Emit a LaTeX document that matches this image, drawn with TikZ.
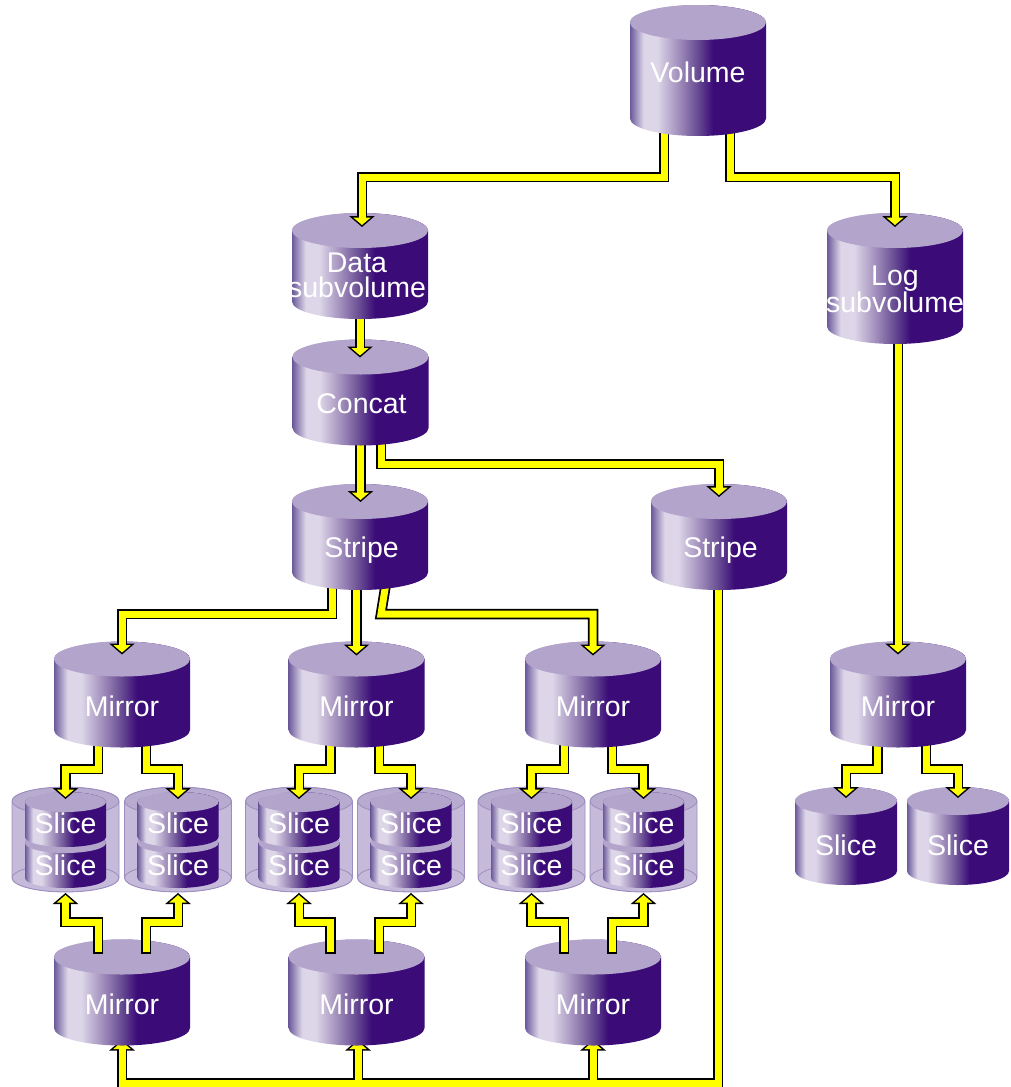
\documentclass[tikz,border=0pt]{standalone}
\usepackage{fontspec}
\setmainfont{Liberation Sans}
\usetikzlibrary{arrows.meta}

\definecolor{cylflat}{HTML}{3B0C78}
\definecolor{cylmid}{HTML}{6A4F94}
\definecolor{cylsoft}{HTML}{9C88B8}
\definecolor{cyllight}{HTML}{DDD6E8}
\definecolor{cyledge}{HTML}{6B5A9B}
\definecolor{cyltop}{HTML}{B3A4CB}
\definecolor{sleevefill}{HTML}{C5BAD9}
\definecolor{sleevetop}{HTML}{B8ABD0}
\definecolor{sleeveline}{HTML}{9D8DBE}
\definecolor{pipeyellow}{HTML}{FFFF00}

\pgfdeclarehorizontalshading{cylbody}{100bp}{%
  color(0bp)=(cyledge); color(25bp)=(cyledge); color(30bp)=(cyllight);
  color(35bp)=(cyllight); color(43.5bp)=(cylsoft); color(49.5bp)=(cylmid);
  color(55.5bp)=(cylflat); color(100bp)=(cylflat)}

% a drum: box with elliptic top and bottom
\pgfkeys{/pgf/drum ry/.initial=17.5}
\makeatletter
\pgfdeclareshape{drum}{
  \inheritsavedanchors[from=rectangle]
  \inheritanchorborder[from=rectangle]
  \inheritanchor[from=rectangle]{center}
  \inheritanchor[from=rectangle]{north}
  \inheritanchor[from=rectangle]{south}
  \inheritanchor[from=rectangle]{east}
  \inheritanchor[from=rectangle]{west}
  \backgroundpath{
    \southwest \edef\drumxa{\the\pgf@x}\edef\drumya{\the\pgf@y}
    \northeast \edef\drumxb{\the\pgf@x}\edef\drumyb{\the\pgf@y}
    \pgfmathsetmacro\drumrx{(\drumxb-\drumxa)/2}
    \pgfmathsetmacro\drumry{\pgfkeysvalueof{/pgf/drum ry}}
    \pgfpathmoveto{\pgfpoint{\drumxa}{\drumyb-\drumry pt}}
    \pgfpatharc{180}{0}{\drumrx pt and \drumry pt}
    \pgfpathlineto{\pgfpoint{\drumxb}{\drumya+\drumry pt}}
    \pgfpatharc{0}{-180}{\drumrx pt and \drumry pt}
    \pgfpathclose
  }
}
\makeatother

% stacking, back to front
\pgfdeclarelayer{bus}
\pgfdeclarelayer{lowmirrors}
\pgfdeclarelayer{slices}
\pgfdeclarelayer{slicepipes}
\pgfdeclarelayer{mirrors}
\pgfdeclarelayer{mirrorpipes}
\pgfdeclarelayer{stripes}
\pgfdeclarelayer{stripepipes}
\pgfdeclarelayer{concats}
\pgfdeclarelayer{concatpipes}
\pgfdeclarelayer{subvolumes}
\pgfdeclarelayer{volumepipes}
\pgfsetlayers{bus,lowmirrors,slices,slicepipes,mirrors,mirrorpipes,stripes,stripepipes,concats,concatpipes,subvolumes,volumepipes,main}

\tikzset{
  cyl/.style n args={3}{shape=drum, drum ry=#2,
    minimum width=2*#1, minimum height=#3, inner sep=0pt, outer sep=0pt,
    shade, shading=cylbody,
    path picture={\fill[cyltop] ([yshift=-#2]path picture bounding box.north) ellipse (#1 and #2);}},
  bigcyl/.style={cyl={68}{17.5}{#1}},
  smallcyl/.style={cyl={51}{14}{98}},
  innercyl/.style={cyl={40.5}{10}{55}},
  sleeve/.style={shape=drum, drum ry=14,
    minimum width=107, minimum height=105, inner sep=0pt, outer sep=0pt,
    fill=sleevefill, draw=sleeveline, line width=0.8pt,
    path picture={
      \draw[sleeveline, line width=0.8pt] ([yshift=14]path picture bounding box.south) ellipse (53.5 and 14);
      \draw[sleeveline, fill=sleevetop, line width=0.8pt] ([yshift=-14]path picture bounding box.north) ellipse (53.5 and 14);}},
  bigtext/.style={text=white, font=\fontsize{28.5}{25}\selectfont, align=center},
  pipe/.style={
    preaction={draw=black, line width=10.5pt, shorten >=0pt, shorten <=0pt,
      -{Triangle[width=25pt,length=11pt]}},
    draw=pipeyellow, line width=7pt, shorten >=2pt, shorten <=1.7pt,
    -{Triangle[width=17pt,length=7.5pt]}},
  pipecover/.style={draw=pipeyellow, line width=7pt}
}

\begin{document}
\begin{tikzpicture}[x=1pt,y=1pt]
  \useasboundingbox (0,0) rectangle (1011,-1087);

  % Top of the tree
  \node[bigcyl=131, label={[bigtext,yshift=-2]center:Volume}] (volume) at (698,-70.5) {};
  \begin{pgfonlayer}{subvolumes}
    \node[bigcyl=106, label={[bigtext,xshift=-3,yshift=-9]center:Data\\subvolume}] (data) at (360,-266) {};
    \node[bigcyl=131, label={[bigtext,yshift=-11]center:Log\\subvolume}] (log) at (895,-278.5) {};
  \end{pgfonlayer}
  \begin{pgfonlayer}{concats}
    \node[bigcyl=106, label={[bigtext,xshift=1,yshift=-11]center:Concat}] (concat) at (360.5,-392.5) {};
  \end{pgfonlayer}
  \begin{pgfonlayer}{stripes}
    \node[bigcyl=106, label={[bigtext,xshift=1.5,yshift=-13]center:Stripe}] (stripeA) at (360,-537) {};
    \node[bigcyl=106, label={[bigtext,xshift=1.5,yshift=-13]center:Stripe}] (stripeB) at (719,-537) {};
  \end{pgfonlayer}

  % Mirrors
  \begin{pgfonlayer}{mirrors}
    \foreach \n/\x in {A/122,B/356.5,C/593,D/898} {
      \node[bigcyl=106, label={[bigtext,yshift=-12]center:Mirror}] (mirror\n) at (\x,-694.5) {};
    }
  \end{pgfonlayer}
  \begin{pgfonlayer}{lowmirrors}
    \foreach \n/\x in {A/122,B/356.5,C/593} {
      \node[bigcyl=106, label={[bigtext,yshift=-12]center:Mirror}] (lowmirror\n) at (\x,-992.5) {};
    }
  \end{pgfonlayer}

  % Slices
  \begin{pgfonlayer}{slices}
    \foreach \n/\x in {A/65.5,B/178,C/299,D/411,E/531.5,F/643.5} {
      \node[sleeve] (sleeve\n) at (\x,-839.5) {};
      \node[innercyl, label={[bigtext,yshift=-4.5]center:Slice}] (slicelow\n) at (\x,-860.5) {};
      \node[innercyl, label={[bigtext,yshift=-3.5]center:Slice}] (sliceup\n) at (\x,-819.5) {};
    }
    \node[smallcyl, label={[bigtext,yshift=-9]center:Slice}] (sliceG) at (846,-836) {};
    \node[smallcyl, label={[bigtext,yshift=-9]center:Slice}] (sliceH) at (958,-836) {};
  \end{pgfonlayer}

  % Pipes from the volume down to the stripes
  \begin{pgfonlayer}{volumepipes}
    \draw[pipe] ([xshift=-34]volume.center) -- ([xshift=-34,yshift=-106.5]volume.center) -| ([xshift=2,yshift=-14]data.north);
    \draw[pipe] ([xshift=32]volume.center) -- ([xshift=32,yshift=-106.5]volume.center) -| ([yshift=-14]log.north);
  \end{pgfonlayer}
  \begin{pgfonlayer}{concatpipes}
    \draw[pipe] (data.center) -- ([xshift=-0.5,yshift=-18]concat.north);
  \end{pgfonlayer}
  \begin{pgfonlayer}{stripepipes}
    \draw[pipe] (concat.center) -- ([xshift=0.5,yshift=-18]stripeA.north);
    \draw[pipe] ([xshift=20.5]concat.center) -- ([xshift=20.5,yshift=-71.5]concat.center) -| ([yshift=-13]stripeB.north);
  \end{pgfonlayer}

  % Pipes from the first stripe to the mirrors
  \begin{pgfonlayer}{mirrorpipes}
    \draw[pipe] ([xshift=-28]stripeA.center) -- ([xshift=-28,yshift=-77]stripeA.center) -| ([yshift=-13]mirrorA.north);
    \draw[pipe] ([xshift=-3.5]stripeA.center) -- ([yshift=-14]mirrorB.north);
    \draw[pipe] ([xshift=26,yshift=-46]stripeA.center) -- ([xshift=21,yshift=-77]stripeA.center) -| ([yshift=-14]mirrorC.north);
    \draw[pipe] ([xshift=3]log.center) -- ([yshift=-13]mirrorD.north);
  \end{pgfonlayer}

  % Pipes in and out of the slices
  \begin{pgfonlayer}{slicepipes}
    \foreach \m/\l/\r/\a/\b in {A/A/B/-24/24,B/C/D/-26/22.5,C/E/F/-29/19} {
      \draw[pipe] ([xshift=\a]mirror\m.center) -- ([xshift=\a,yshift=-74.5]mirror\m.center) -| ([yshift=-12]sleeve\l.north);
      \draw[pipe] ([xshift=\b]mirror\m.center) -- ([xshift=\b,yshift=-74.5]mirror\m.center) -| ([yshift=-12]sleeve\r.north);
      \draw[pipe] ([xshift=\a,yshift=-14]lowmirror\m.north) -- ([xshift=\a,yshift=17.5]lowmirror\m.north) -| ([yshift=-1]sleeve\l.south);
      \draw[pipe] ([xshift=\b,yshift=-14]lowmirror\m.north) -- ([xshift=\b,yshift=17.5]lowmirror\m.north) -| ([yshift=-1]sleeve\r.south);
    }
    \draw[pipe] ([xshift=-20.5]mirrorD.center) -- ([xshift=-20.5,yshift=-74.5]mirrorD.center) -| ([yshift=-11]sliceG.north);
    \draw[pipe] ([xshift=28]mirrorD.center) -- ([xshift=28,yshift=-74.5]mirrorD.center) -| ([yshift=-11]sliceH.north);
  \end{pgfonlayer}

  % Bus along the bottom
  \begin{pgfonlayer}{bus}
    \coordinate (busright) at ([xshift=-1,yshift=-546]stripeB.center);
    \coordinate (busmid) at ([xshift=1.5]lowmirrorB.south |- busright);
    \coordinate (busend) at (lowmirrorC.south |- busright);
    \coordinate (busleft) at (lowmirrorA.south |- busright);
    \draw[pipe] ([xshift=-1]stripeB.center) -- (busright) -| ([yshift=6]lowmirrorA.south);
    \draw[pipe] (busmid) -- ([xshift=1.5,yshift=6]lowmirrorB.south);
    \draw[pipe] (busend) -- ([yshift=6]lowmirrorC.south);
    \draw[pipecover] (busleft) -- (busright);
  \end{pgfonlayer}
\end{tikzpicture}
\end{document}
